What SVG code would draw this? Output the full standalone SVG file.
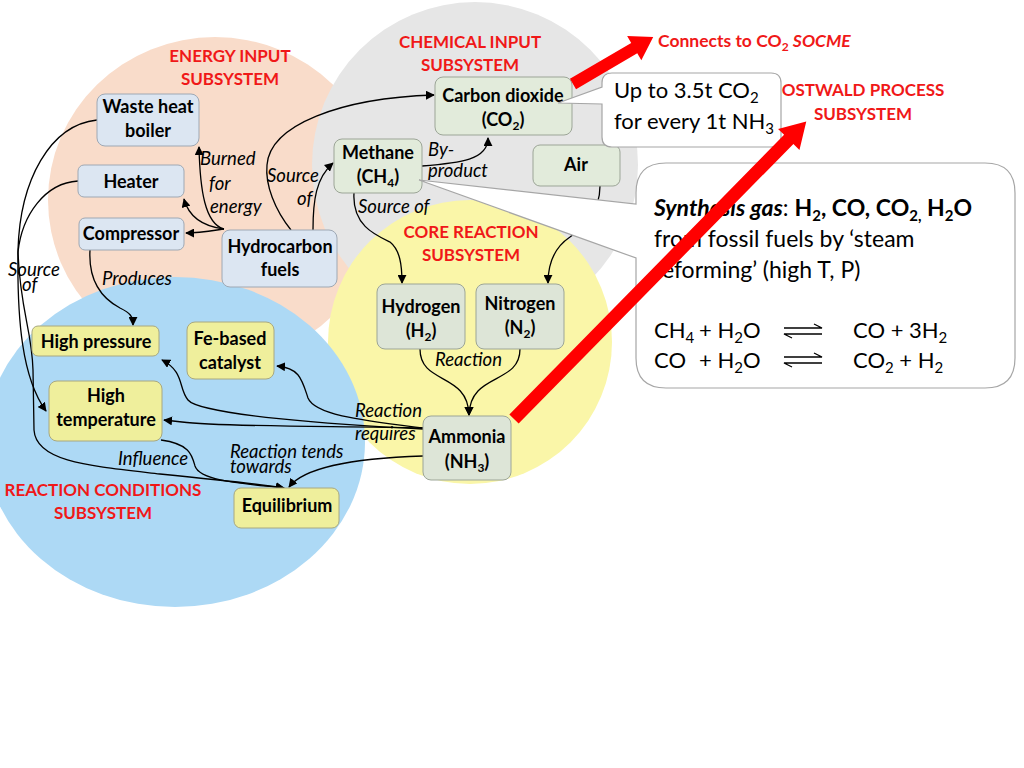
<svg xmlns="http://www.w3.org/2000/svg" width="1024" height="768" viewBox="0 0 1024 768">
<defs>
<marker id="ah" viewBox="0 0 10 10" refX="9" refY="5" markerWidth="9" markerHeight="9" markerUnits="userSpaceOnUse" orient="auto"><path d="M0,0 L10,5 L0,10 z" fill="#000"/></marker>
<style>
text{font-family:Lato,"Liberation Sans",sans-serif}
.n{font-weight:bold;font-size:18px;text-anchor:middle;fill:#000}
.t{font-weight:bold;font-size:17px;text-anchor:middle;fill:#F01818}
.l{font-style:italic;font-size:18.5px;fill:#000}
.c{font-size:22px;fill:#000}
.s{font-size:23px;fill:#000}
.en rect{fill:#DCE6F2;stroke:#9EA8B4;stroke-width:1}
.ch rect{fill:#E2EBDB;stroke:#9CA597;stroke-width:1}
.co rect{fill:#DDE5D7;stroke:#9CA597;stroke-width:1}
.rc rect{fill:#EFEF9C;stroke:#A8A880;stroke-width:1}
.e{fill:none;stroke:#000;stroke-width:1.3;marker-end:url(#ah)}
.e2{fill:none;stroke:#000;stroke-width:1.3}
.call{fill:#fff;stroke:#A6A6A6;stroke-width:1.2}
.red{fill:#FF0000}
</style>
</defs>
<rect width="1024" height="768" fill="#fff"/>
<g id="areas">
<ellipse cx="215" cy="200" rx="167" ry="163" fill="#F9DCCA"/>
<circle cx="475" cy="165" r="163" fill="#E6E6E6"/>
<circle cx="470" cy="342" r="142" fill="#FAF6A8"/>
<ellipse cx="175" cy="442" rx="190" ry="165" fill="#ADD9F5"/>
</g>
<g id="titles">
<text class="t" x="230" y="62">ENERGY INPUT</text><text class="t" x="230" y="85">SUBSYSTEM</text>
<text class="t" x="470" y="48">CHEMICAL INPUT</text><text class="t" x="470" y="71">SUBSYSTEM</text>
<text class="t" x="471" y="238">CORE REACTION</text><text class="t" x="471" y="261">SUBSYSTEM</text>
<text class="t" x="103" y="496">REACTION CONDITIONS</text><text class="t" x="103" y="519">SUBSYSTEM</text>
<text class="t" x="863" y="96">OSTWALD PROCESS</text><text class="t" x="863" y="120">SUBSYSTEM</text>
<text class="t" x="658" y="47" style="text-anchor:start;font-size:17.5px">Connects to CO<tspan font-size="12" baseline-shift="-4">2</tspan> <tspan font-style="italic">SOCME</tspan></text>
</g>
<g id="connectors">
<path class="e" d="M291,230 C275,210 265,185 267,165 C270,125 340,98 434,95"/>
<path class="e" d="M313,230 C313,200 316,178 333,163"/>
<path class="e" d="M224,229 C205,224 200,190 199,147"/>
<path class="e" d="M224,229 C200,226 188,214 184,199"/>
<path class="e" d="M224,229 C210,231 198,233 186,233"/>
<path class="e" d="M97,120 C50,125 20,180 18,250 C17,320 22,378 46,411"/>
<path class="e2" d="M78,181 C45,183 22,215 18,252"/>
<path class="e" d="M18,252 C20,310 32,330 33,370 L34,430 C36,462 90,466 160,474 C220,480 260,484 284,488"/>
<path class="e" d="M161,440 C190,444 192,455 195,466 C200,482 250,484 284,488"/>
<path class="e" d="M423,456 C360,458 305,466 289,487"/>
<path class="e" d="M423,428 C330,426 220,427 182,422 L164,420"/>
<path class="e" d="M423,429 C340,425 200,415 188,400 C178,388 185,372 162,360"/>
<path class="e" d="M423,428 C360,420 315,415 308,398 C302,380 300,368 277,366"/>
<path class="e" d="M90,250 C88,285 105,300 120,308 C130,313 133,316 133,325"/>
<path class="e" d="M354,193 C352,225 375,235 390,242 C400,250 402,265 402,283"/>
<path class="e" d="M600,186 C600,215 580,230 570,237 C555,247 548,262 548,283"/>
<path class="e" d="M422,166 C460,163 488,160 488,138"/>
<path class="e" d="M420,349 C420,385 468,372 469,415"/>
<path class="e" d="M520,349 C520,385 470,372 469,415"/>
</g>
<g id="whb" class="en"><rect x="97" y="94" width="102" height="52" rx="8"/><text class="n" x="148" y="113">Waste heat</text><text class="n" x="148" y="137">boiler</text></g>
<g id="heater" class="en"><rect x="78" y="165" width="106" height="32" rx="6"/><text class="n" x="131" y="188">Heater</text></g>
<g id="compressor" class="en"><rect x="79" y="218" width="105" height="32" rx="6"/><text class="n" x="131" y="240">Compressor</text></g>
<g id="hydrocarbon" class="en"><rect x="222" y="230" width="115" height="57" rx="8"/><text class="n" x="280" y="253">Hydrocarbon</text><text class="n" x="280" y="276">fuels</text></g>
<g id="co2" class="ch"><rect x="435" y="77" width="137" height="58" rx="8"/><text class="n" x="503" y="102">Carbon dioxide</text><text class="n" x="503" y="126">(CO<tspan font-size="12" baseline-shift="-4">2</tspan>)</text></g>
<g id="methane" class="ch"><rect x="334" y="139" width="88" height="54" rx="8"/><text class="n" x="378" y="159">Methane</text><text class="n" x="378" y="183">(CH<tspan font-size="12" baseline-shift="-4">4</tspan>)</text></g>
<g id="air" class="ch"><rect x="533" y="145" width="87" height="41" rx="7"/><text class="n" x="576" y="171">Air</text></g>
<g id="hydrogen" class="co"><rect x="377" y="284" width="88" height="65" rx="8"/><text class="n" x="421" y="313">Hydrogen</text><text class="n" x="421" y="337">(H<tspan font-size="12" baseline-shift="-4">2</tspan>)</text></g>
<g id="nitrogen" class="co"><rect x="476" y="284" width="88" height="65" rx="8"/><text class="n" x="520" y="310">Nitrogen</text><text class="n" x="520" y="334">(N<tspan font-size="12" baseline-shift="-4">2</tspan>)</text></g>
<g id="ammonia" class="co"><rect x="423" y="416" width="88" height="64" rx="8"/><text class="n" x="467" y="443">Ammonia</text><text class="n" x="467" y="468">(NH<tspan font-size="12" baseline-shift="-4">3</tspan>)</text></g>
<g id="highpressure" class="rc"><rect x="32" y="326" width="127" height="30" rx="6"/><text class="n" x="96" y="348">High pressure</text></g>
<g id="fecatalyst" class="rc"><rect x="187" y="322" width="87" height="57" rx="8"/><text class="n" x="230" y="345">Fe-based</text><text class="n" x="230" y="369">catalyst</text></g>
<g id="hightemp" class="rc"><rect x="49" y="381" width="113" height="60" rx="8"/><text class="n" x="106" y="402">High</text><text class="n" x="106" y="426">temperature</text></g>
<g id="equilibrium" class="rc"><rect x="234" y="488" width="105" height="40" rx="7"/><text class="n" x="287" y="512">Equilibrium</text></g>
<g id="callout-co2">
<path class="call" d="M612,73 H771 Q781,73 781,83 V137 Q781,147 771,147 H612 Q602,147 602,137 V104 L558,103 L602,87 V83 Q602,73 612,73 Z"/>
<text class="c" x="614" y="98">Up to 3.5t CO<tspan font-size="15" baseline-shift="-5">2</tspan></text>
<text class="c" x="614" y="129">for every 1t NH<tspan font-size="15" baseline-shift="-5">3</tspan></text>
</g>
<g id="callout-syngas">
<path class="call" d="M666,163 H985 Q1015,163 1015,193 V358 Q1015,388 985,388 H666 Q636,388 636,358 V258 L419,180 L636,204 V193 Q636,163 666,163 Z"/>
<text class="s" x="654" y="216"><tspan font-weight="bold" font-style="italic">Synthesis gas</tspan>: <tspan font-weight="bold">H<tspan font-size="15" baseline-shift="-5">2</tspan>, CO, CO<tspan font-size="15" baseline-shift="-5">2,</tspan> H<tspan font-size="15" baseline-shift="-5">2</tspan>O</tspan></text>
<text class="s" x="654" y="247">from fossil fuels by ‘steam</text>
<text class="s" x="654" y="278">reforming’ (high T, P)</text>
<text class="c" x="654" y="338">CH<tspan font-size="15" baseline-shift="-5">4</tspan></text>
<text class="c" x="699" y="338">+ H<tspan font-size="15" baseline-shift="-5">2</tspan>O</text>
<text class="c" x="853" y="338">CO + 3H<tspan font-size="15" baseline-shift="-5">2</tspan></text>
<text class="c" x="654" y="368">CO</text>
<text class="c" x="699" y="368">+ H<tspan font-size="15" baseline-shift="-5">2</tspan>O</text>
<text class="c" x="853" y="368">CO<tspan font-size="15" baseline-shift="-5">2</tspan> + H<tspan font-size="15" baseline-shift="-5">2</tspan></text>
<path d="M784,328 H822 L814,324 M822,334 H784 L792,338" fill="none" stroke="#000" stroke-width="1.3"/>
<path d="M784,357 H822 L814,353 M822,363 H784 L792,367" fill="none" stroke="#000" stroke-width="1.3"/>
</g>
<g id="edge-labels">
<text class="l" x="200" y="165">Burned</text><text class="l" x="209" y="190">for</text><text class="l" x="210" y="213">energy</text>
<text class="l" x="267" y="182">Source</text><text class="l" x="297" y="205">of</text>
<text class="l" x="428" y="156">By-</text><text class="l" x="428" y="177">product</text>
<text class="l" x="358" y="213">Source of</text>
<text class="l" x="8" y="276" font-size="16">Source</text><text class="l" x="22" y="291" font-size="16">of</text>
<text class="l" x="102" y="285">Produces</text>
<text class="l" x="435" y="366">Reaction</text>
<text class="l" x="355" y="417">Reaction</text><text class="l" x="355" y="440">requires</text>
<text class="l" x="230" y="458">Reaction tends</text><text class="l" x="230" y="473">towards</text>
<text class="l" x="118" y="465">Influence</text>
</g>
<g id="red-arrows">
<polygon class="red" transform="translate(573,84) rotate(-30.4)" points="0,-6 71,-6 71,-14 93,0 71,14 71,6 0,6"/>
<polygon class="red" transform="translate(514,419) rotate(-45.5)" points="0,-6.5 392,-6.5 392,-15 417,0 392,15 392,6.5 0,6.5"/>
</g>
</svg>
